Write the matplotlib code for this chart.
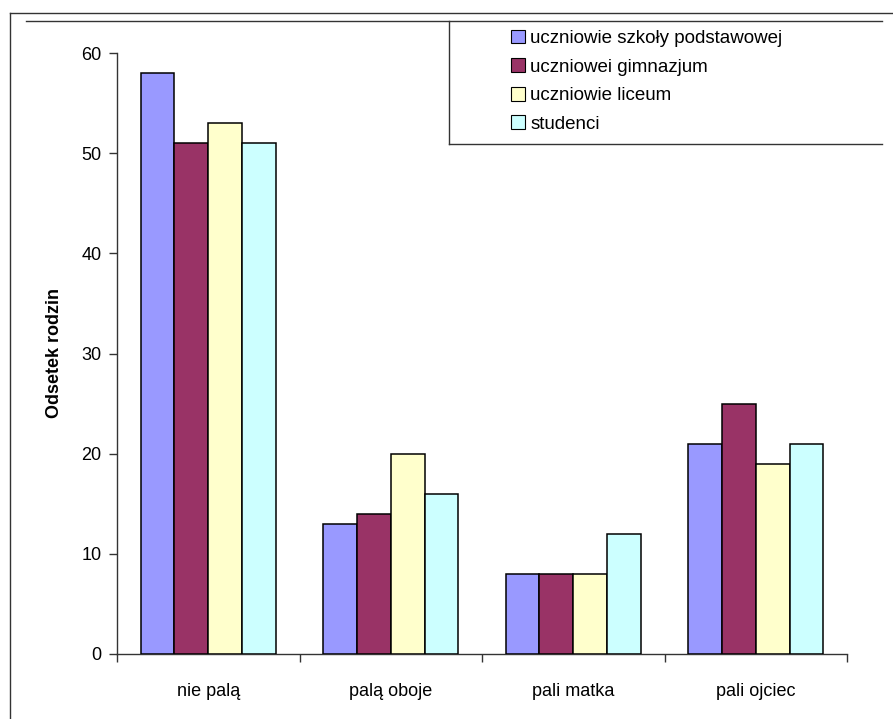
import matplotlib
matplotlib.use('Agg')
import matplotlib.pyplot as plt
import numpy as np
from matplotlib.patches import Patch
from matplotlib.lines import Line2D

categories = ['nie palą', 'palą oboje', 'pali matka', 'pali ojciec']
series = ['uczniowie szkoły podstawowej', 'uczniowei gimnazjum', 'uczniowie liceum', 'studenci']
values = {
    'uczniowie szkoły podstawowej': [58, 13, 8, 21],
    'uczniowei gimnazjum': [51, 14, 8, 25],
    'uczniowie liceum': [53, 20, 8, 19],
    'studenci': [51, 16, 12, 21],
}
colors = ['#9999FF', '#993366', '#FFFFCC', '#CCFFFF']
yticks = [0, 10, 20, 30, 40, 50, 60]

plt.rcParams['font.family'] = ['Liberation Sans', 'DejaVu Sans']

W, H = 893, 719
fig = plt.figure(figsize=(W / 100, H / 100), dpi=100)

def px(x, y):
    # pixel coords (from top-left) -> figure fraction
    return x / W, 1 - y / H

# chart frame lines
frame = [
    ((10, 13), (10, 719)),
    ((10, 13), (893, 13)),
    ((26, 21), (882, 21)),
    ((449, 21), (449, 144)),
    ((449, 144), (882, 144)),
]
for (x0, y0), (x1, y1) in frame:
    a, b = px(x0, y0)
    c, d = px(x1, y1)
    fig.add_artist(Line2D([a, c], [b, d], color='#333333', lw=1.0))

left, right = 117 / W, 847 / W
bottom, top = 1 - 654 / H, 1 - 53 / H
ax = fig.add_axes([left, bottom, right - left, top - bottom])

n = len(series)
width = 0.185
x = np.arange(len(categories))
for i, name in enumerate(series):
    offs = (i - (n - 1) / 2) * width
    ax.bar(x + offs, values[name], width, color=colors[i], edgecolor='black', linewidth=1.1, zorder=3)

ax.set_xlim(-0.5, len(categories) - 0.5)
ax.set_ylim(0, 60)
ax.set_yticks(yticks)
ax.set_yticklabels([str(v) for v in yticks], fontsize=13)
ax.set_xticks(x)
ax.set_xticklabels(categories, fontsize=13)
ax.tick_params(axis='x', length=0, pad=21)
ax.set_xticks(np.arange(len(categories) + 1) - 0.5, minor=True)
ax.tick_params(axis='x', which='minor', length=6, width=1, color='#333333')
ax.tick_params(axis='y', length=6, width=1, color='#333333', pad=5)
for s in ['top', 'right']:
    ax.spines[s].set_visible(False)
for s in ['left', 'bottom']:
    ax.spines[s].set_color('#333333')
    ax.spines[s].set_linewidth(1.0)
ax.set_ylabel('Odsetek rodzin', fontsize=13, fontweight='bold', labelpad=13)

handles = [Patch(facecolor=c, edgecolor='black', linewidth=0.8) for c in colors]
fig.legend(handles, series, loc='upper left', bbox_to_anchor=px(503, 22),
           frameon=False, fontsize=13.5, handlelength=0.75, handleheight=0.75,
           handletextpad=0.3, labelspacing=0.6, borderaxespad=0)

fig.savefig('out.png', dpi=100)
